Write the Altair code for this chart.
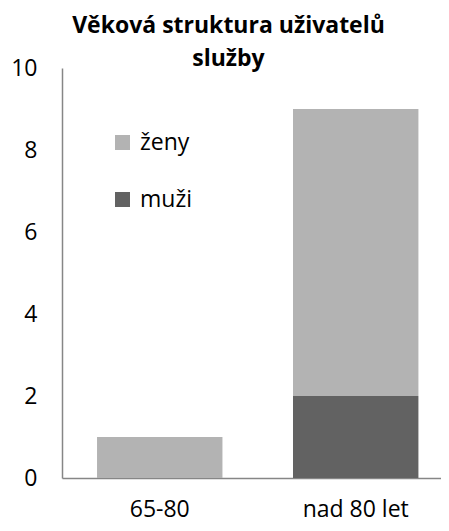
import altair as alt
import pandas as pd

categories = ["65-80", "nad 80 let"]
zeny = [1, 7]
muzi = [0, 2]
series = ["ženy", "muži"]
colors = ["#b3b3b3", "#626262"]

rows = []
for i, c in enumerate(categories):
    rows.append({"kategorie": c, "pohlaví": "muži", "počet": muzi[i], "poradi": 0})
    rows.append({"kategorie": c, "pohlaví": "ženy", "počet": zeny[i], "poradi": 1})
df = pd.DataFrame(rows)

FONT = "Open Sans"

chart = alt.Chart(df).mark_bar().encode(
    x=alt.X("kategorie:N", sort=categories,
            scale=alt.Scale(paddingInner=0.36, paddingOuter=0.147, align=0.608),
            axis=alt.Axis(title=None, labelAngle=0, ticks=False, labelPadding=20,
                          labelFontSize=23, labelFont=FONT, labelColor="#000000",
                          domainColor="#868686", domainWidth=1.5)),
    y=alt.Y("počet:Q", stack="zero", scale=alt.Scale(domain=[0, 10]),
            axis=alt.Axis(title=None, values=[0, 2, 4, 6, 8, 10], grid=False, ticks=False,
                          labelPadding=25, labelFontSize=23, labelFont=FONT,
                          labelColor="#000000", domainColor="#868686", domainWidth=1.5)),
    color=alt.Color("pohlaví:N", scale=alt.Scale(domain=series, range=colors),
                    legend=alt.Legend(title=None, orient="none", legendX=49, legendY=63,
                                      symbolType="square", symbolSize=225, symbolStrokeWidth=0,
                                      labelFontSize=23, labelFont=FONT, labelColor="#000000",
                                      rowPadding=33, labelOffset=6)),
    order=alt.Order("poradi:Q"),
).properties(
    width=379,
    height=410,
    title=alt.TitleParams(text=["Věková struktura uživatelů", "služby"], font=FONT,
                          fontSize=23, fontWeight="bold", color="#000000",
                          lineHeight=33, anchor="middle", frame="group", dx=-23, offset=-14),
    autosize=alt.AutoSizeParams(type="none"),
    padding={"left": 54, "top": 60, "right": 0, "bottom": 45},
).configure_view(stroke=None)

chart.save("out.html", embed_options={"renderer": "svg", "actions": False})
